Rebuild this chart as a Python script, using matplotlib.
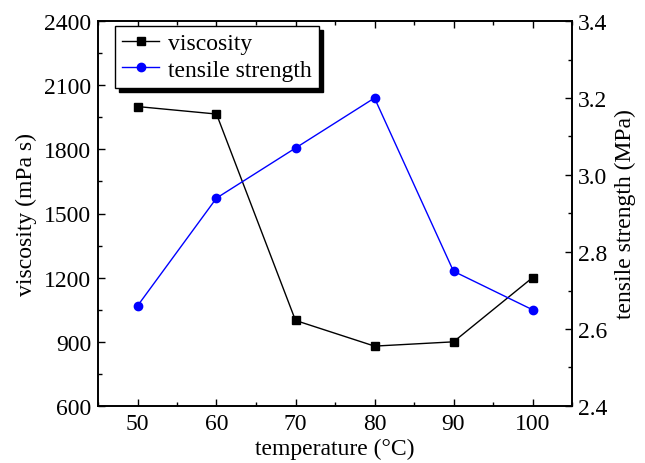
import matplotlib
matplotlib.use("Agg")
import matplotlib.pyplot as plt
from matplotlib.ticker import MultipleLocator

plt.rcParams['font.family'] = ['Liberation Serif', 'DejaVu Serif']
plt.rcParams['mathtext.fontset'] = 'stix'

temperature = [50, 60, 70, 80, 90, 100]
viscosity = [2000, 1965, 1000, 880, 900, 1200]
tensile_strength = [2.66, 2.94, 3.07, 3.20, 2.75, 2.65]

fig = plt.figure(figsize=(6.45, 4.64), dpi=100)
ax = fig.add_axes([98/645, 1-407/464, (572-98)/645, (407-22)/464])
ax2 = ax.twinx()

l1, = ax.plot(temperature, viscosity, color='black', marker='s', markersize=5.5, lw=1, label='viscosity')
l2, = ax2.plot(temperature, tensile_strength, color='blue', marker='o', markersize=6, lw=1, label='tensile strength')

ax.set_xlim(45, 105)
ax.set_ylim(600, 2400)
ax2.set_ylim(2.4, 3.4)
ax.xaxis.set_major_locator(MultipleLocator(10))
ax.xaxis.set_minor_locator(MultipleLocator(5))
ax.yaxis.set_major_locator(MultipleLocator(300))
ax.yaxis.set_minor_locator(MultipleLocator(150))
ax2.yaxis.set_major_locator(MultipleLocator(0.2))
ax2.yaxis.set_minor_locator(MultipleLocator(0.1))
ax2.set_yticks(ax2.get_yticks())
ax2.set_yticklabels([f"{v:.1f}" for v in ax2.get_yticks()])
ax2.set_ylim(2.4, 3.4)

for a in (ax, ax2):
    for s in a.spines.values():
        s.set_linewidth(1.2)

ax.tick_params(axis='both', which='both', direction='in', labelsize=17, top=True, right=False, pad=5)
ax.tick_params(which='major', length=5, width=1)
ax.tick_params(which='minor', length=3, width=1)
ax2.tick_params(axis='y', which='both', direction='in', labelsize=17, pad=4)
ax2.tick_params(which='major', length=5, width=1)
ax2.tick_params(which='minor', length=3, width=1)

ax.set_xlabel('temperature (°C)', fontsize=17, labelpad=3)
ax.set_ylabel('viscosity (mPa s)', fontsize=17, labelpad=5)
ax2.set_ylabel('tensile strength (MPa)', fontsize=17, labelpad=6)

leg = ax.legend(handles=[l1, l2], loc='upper left', fontsize=17, frameon=True, fancybox=False,
                shadow={'color': 'black', 'alpha': 1, 'ox': 3, 'oy': -3}, framealpha=1, edgecolor='black',
                borderpad=0.3, labelspacing=0.2, handlelength=1.6, handletextpad=0.35,
                borderaxespad=0.2, bbox_to_anchor=(0.025, 1.0))
leg.get_frame().set_linewidth(1.0)

fig.savefig('out.png', dpi=100)
